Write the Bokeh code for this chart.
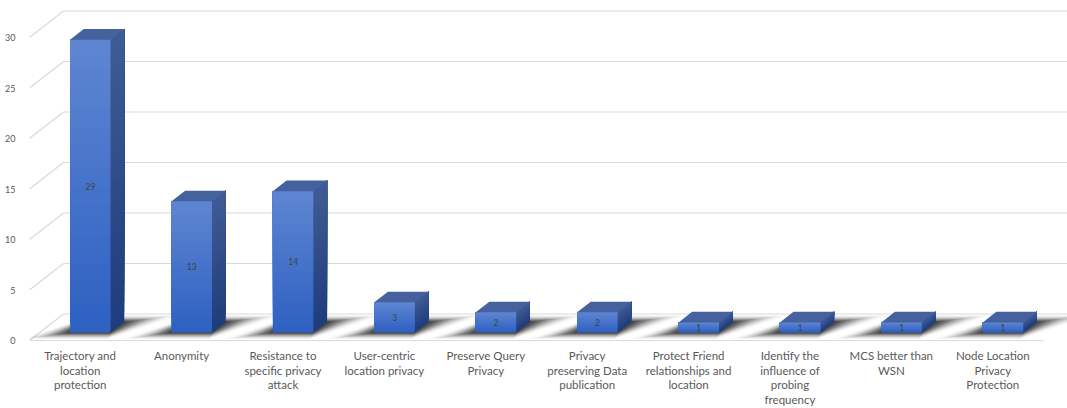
import numpy as np
from bokeh.plotting import figure
from bokeh.models import Range1d, FixedTicker
from bokeh.embed import file_html
from bokeh.resources import INLINE
from bokeh.core.properties import value

# ---------------- data ----------------
categories = [
    "Trajectory and\nlocation\nprotection",
    "Anonymity",
    "Resistance to\nspecific privacy\nattack",
    "User-centric\nlocation privacy",
    "Preserve Query\nPrivacy",
    "Privacy\npreserving Data\npublication",
    "Protect Friend\nrelationships and\nlocation",
    "Identify the\ninfluence of\nprobing\nfrequency",
    "MCS better than\nWSN",
    "Node Location\nPrivacy\nProtection",
]
counts = [29, 13, 14, 3, 2, 2, 1, 1, 1, 1]
y_ticks = [0, 5, 10, 15, 20, 25, 30]

# ---------------- geometry (style) ----------------
W, H = 1067, 408
LEFT = 29
PX_X = 101.4          # pixels per category
PX_Y = 10.1           # pixels per unit
ZERO_PX = 340
x0 = -0.5
x1 = x0 + (W - LEFT) / PX_X
ytop = ZERO_PX / PX_Y
ybot = -(H - ZERO_PX) / PX_Y
DXB = 34 / PX_X       # depth offset, x (data units)
DYB = 26.5 / PX_Y     # depth offset, y (data units)
F0, F1 = 0.3, 0.7     # bar depth span
BW = 0.4              # bar width
FONT = "Lato"

p = figure(width=W, height=H, x_range=Range1d(x0, x1), y_range=Range1d(ybot, ytop),
           output_backend="svg", toolbar_location=None, x_axis_location=None,
           min_border_left=LEFT, min_border_right=0, min_border_top=0, min_border_bottom=0)
p.grid.visible = False
p.outline_line_color = None
p.background_fill_color = "white"
p.border_fill_color = "white"
p.yaxis.ticker = FixedTicker(ticks=y_ticks)
p.yaxis.axis_line_color = None
p.yaxis.major_tick_line_color = None
p.yaxis.minor_tick_line_color = None
p.yaxis.major_label_standoff = 8
p.yaxis.major_label_text_font = FONT
p.yaxis.major_label_text_font_size = "9px"
p.yaxis.major_label_text_color = "#595959"

GRID = "#d9d9d9"
ncat = len(categories)
ticks = np.array(y_ticks, dtype=float)
# back wall gridlines
p.segment(x0=[x0 + DXB] * len(ticks), y0=ticks + DYB, x1=[x1] * len(ticks), y1=ticks + DYB,
          line_color=GRID, line_width=1.2)
# side wall diagonals
p.segment(x0=[x0] * len(ticks), y0=ticks, x1=[x0 + DXB] * len(ticks), y1=ticks + DYB,
          line_color=GRID, line_width=1.2)
# floor front edge
p.segment(x0=[x0], y0=[0], x1=[x0 + ncat], y1=[0], line_color=GRID, line_width=1.2)

idx = np.arange(ncat)
vals = np.array(counts, dtype=float)

def floor_pt(u, t):
    return u + t * DXB, t * DYB

# soft skewed shadows on floor (layered, fading outward)
NL = 12
for k in range(NL, 0, -1):
    s = k / NL
    alpha = 0.2 * (1 - (k - 1) / NL) ** 1.6 + 0.01
    xs, ys = [], []
    for i in idx:
        ta = max(0.05, F0 - 0.27 * s)
        tb = min(0.95, F1 + 0.27 * s)
        pts = [floor_pt(i - BW / 2 - 0.42 * s, ta),
               floor_pt(i + BW / 2 + 0.05 * s, ta),
               floor_pt(i + BW / 2 + 0.48 * s, tb),
               floor_pt(i - BW / 2 + 0.0 * s, tb)]
        xs.append([q[0] for q in pts])
        ys.append([q[1] for q in pts])
    p.patches(xs, ys, fill_color="black", fill_alpha=alpha, line_color=None)

def hex2rgb(h):
    h = h.lstrip("#")
    return np.array([int(h[j:j + 2], 16) for j in (0, 2, 4)], dtype=float)

def lerp(c0, c1, t):
    c = hex2rgb(c0) * (1 - t) + hex2rgb(c1) * t
    return "#%02x%02x%02x" % tuple(int(round(v)) for v in c)

FRONT_BOT, FRONT_TOP = "#2e61c2", "#5e85d1"
SIDE_BOT, SIDE_TOP = "#1f3d7c", "#3f5b95"
TOP_C = "#45629e"

xl = idx - BW / 2 + F0 * DXB
xr = xl + BW
yb = np.full(ncat, F0 * DYB)
yt = yb + vals
ddx = (F1 - F0) * DXB
ddy = (F1 - F0) * DYB

N = 30
for k in range(N):
    t = k / (N - 1)
    ys0 = yb + vals * k / N
    # front face strip
    p.quad(left=xl, right=xr, bottom=ys0, top=yt, fill_color=lerp(FRONT_BOT, FRONT_TOP, t), line_color=None)
    # side face strip
    sx = [[r, r + ddx, r + ddx, r] for r in xr]
    sy = [[a, a + ddy, b + ddy, b] for a, b in zip(ys0, yt)]
    p.patches(sx, sy, fill_color=lerp(SIDE_BOT, SIDE_TOP, t), line_color=None)

# top faces
tx = [[l, r, r + ddx, l + ddx] for l, r in zip(xl, xr)]
ty = [[b, b, b + ddy, b + ddy] for b in yt]
p.patches(tx, ty, fill_color=TOP_C, line_color=None)

# value labels
p.text(x=(xl + xr) / 2, y=(yb + yt) / 2, text=[str(c) for c in counts],
       text_align="center", text_baseline="middle", text_font=value(FONT),
       text_font_size="8.5px", text_color="#404040")

# category labels
p.text(x=idx, y=[-0.85] * ncat, text=categories, text_align="center", text_baseline="top",
       text_font=value(FONT), text_font_size="11.5px", text_color="#595959",
       text_line_height=1.12)

open("out.html", "w").write(file_html(p, INLINE))
